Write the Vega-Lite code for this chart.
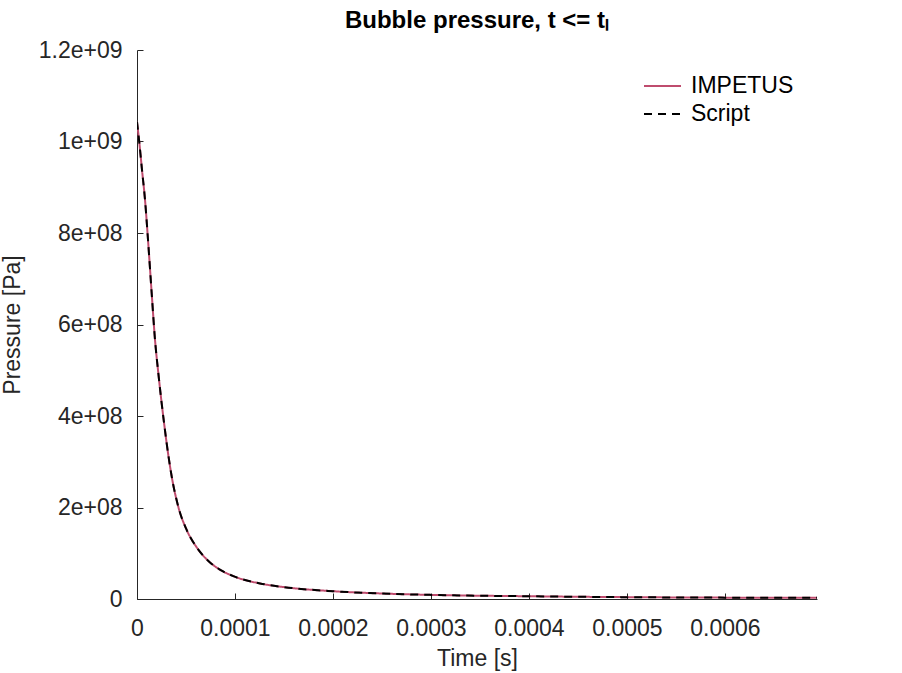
{
  "$schema": "https://vega.github.io/schema/vega-lite/v6.json",
  "width": 680,
  "height": 549,
  "autosize": {"type": "none"},
  "padding": {"left": 137, "top": 50, "right": 85, "bottom": 74},
  "background": "white",
  "title": {
    "text": "Bubble pressure, t <= tₗ",
    "font": "Liberation Sans",
    "fontSize": 24,
    "fontWeight": "bold",
    "color": "#000000",
    "anchor": "middle",
    "offset": 6
  },
  "data": {
    "values": [
      {"t": 0, "IMPETUS": 1.043e9, "Script": 1.043e9},
      {"t": 0.0000023, "IMPETUS": 0.999e9, "Script": 0.999e9},
      {"t": 0.0000051, "IMPETUS": 0.938e9, "Script": 0.938e9},
      {"t": 0.0000082, "IMPETUS": 0.872e9, "Script": 0.872e9},
      {"t": 0.0000115, "IMPETUS": 0.777e9, "Script": 0.777e9},
      {"t": 0.000015, "IMPETUS": 0.668e9, "Script": 0.668e9},
      {"t": 0.0000184, "IMPETUS": 0.566e9, "Script": 0.566e9},
      {"t": 0.0000218, "IMPETUS": 0.493e9, "Script": 0.493e9},
      {"t": 0.0000276, "IMPETUS": 0.385e9, "Script": 0.385e9},
      {"t": 0.0000303, "IMPETUS": 0.34e9, "Script": 0.34e9},
      {"t": 0.0000354, "IMPETUS": 0.268e9, "Script": 0.268e9},
      {"t": 0.0000421, "IMPETUS": 0.202e9, "Script": 0.202e9},
      {"t": 0.0000507, "IMPETUS": 0.151e9, "Script": 0.151e9},
      {"t": 0.0000609, "IMPETUS": 0.113e9, "Script": 0.113e9},
      {"t": 0.0000745, "IMPETUS": 0.08e9, "Script": 0.08e9},
      {"t": 0.0000864, "IMPETUS": 0.062e9, "Script": 0.062e9},
      {"t": 0.0000983, "IMPETUS": 0.05e9, "Script": 0.05e9},
      {"t": 0.0001255, "IMPETUS": 0.034e9, "Script": 0.034e9},
      {"t": 0.00015, "IMPETUS": 0.026e9, "Script": 0.026e9},
      {"t": 0.0002, "IMPETUS": 0.017e9, "Script": 0.017e9},
      {"t": 0.00025, "IMPETUS": 0.012e9, "Script": 0.012e9},
      {"t": 0.0003, "IMPETUS": 0.009e9, "Script": 0.009e9},
      {"t": 0.0004, "IMPETUS": 0.006e9, "Script": 0.006e9},
      {"t": 0.0005, "IMPETUS": 0.004e9, "Script": 0.004e9},
      {"t": 0.0006, "IMPETUS": 0.003e9, "Script": 0.003e9},
      {"t": 0.000694, "IMPETUS": 0.0025e9, "Script": 0.0025e9}
    ]
  },
  "transform": [
    {"fold": ["IMPETUS", "Script"], "as": ["series", "p"]}
  ],
  "mark": {"type": "line", "strokeWidth": 2, "interpolate": "monotone", "clip": true},
  "encoding": {
    "x": {
      "field": "t",
      "type": "quantitative",
      "scale": {"domain": [0, 0.000694], "nice": false, "zero": false},
      "axis": {
        "title": "Time [s]",
        "values": [0, 0.0001, 0.0002, 0.0003, 0.0004, 0.0005, 0.0006],
        "format": ".4~f",
        "labelFlush": false,
        "titleX": 340,
        "titleY": 59,
        "titleBaseline": "middle",
        "labelPadding": 24
      }
    },
    "y": {
      "field": "p",
      "type": "quantitative",
      "scale": {"domain": [0, 1.2e9], "nice": false},
      "axis": {
        "title": "Pressure [Pa]",
        "values": [0, 200000000, 400000000, 600000000, 800000000, 1000000000, 1200000000],
        "labelExpr": "datum.value == 0 ? '0' : replace(format(datum.value, '.2~e'), 'e+', 'e+0')",
        "labelFlush": false,
        "titleX": -125,
        "titleY": 274.5,
        "titleBaseline": "middle",
        "titleAngle": 270,
        "labelPadding": 21
      }
    },
    "color": {
      "field": "series",
      "type": "nominal",
      "scale": {"domain": ["IMPETUS", "Script"], "range": ["#bf4c6e", "#000000"]},
      "legend": {"title": null, "orient": "none", "legendX": 506, "legendY": 22}
    },
    "strokeDash": {
      "field": "series",
      "type": "nominal",
      "scale": {"domain": ["IMPETUS", "Script"], "range": [[1, 0], [8, 6]]},
      "legend": {"title": null, "orient": "none", "legendX": 506, "legendY": 22}
    },
    "order": {"field": "series"}
  },
  "config": {
    "view": {"stroke": null},
    "font": "Liberation Sans",
    "axis": {
      "grid": false,
      "domainColor": "#262626",
      "domainWidth": 1,
      "tickColor": "#262626",
      "tickSize": -6,
      "labelFont": "Liberation Sans",
      "labelFontSize": 23,
      "labelColor": "#262626",
      "titleFont": "Liberation Sans",
      "titleFontSize": 23,
      "titleFontWeight": "normal",
      "titleColor": "#262626"
    },
    "legend": {
      "symbolType": "stroke",
      "symbolSize": 1369,
      "symbolStrokeWidth": 2,
      "labelFont": "Liberation Sans",
      "labelFontSize": 23,
      "labelColor": "#000000",
      "labelOffset": 9,
      "clipHeight": 28,
      "rowPadding": 0,
      "padding": 0
    }
  }
}
